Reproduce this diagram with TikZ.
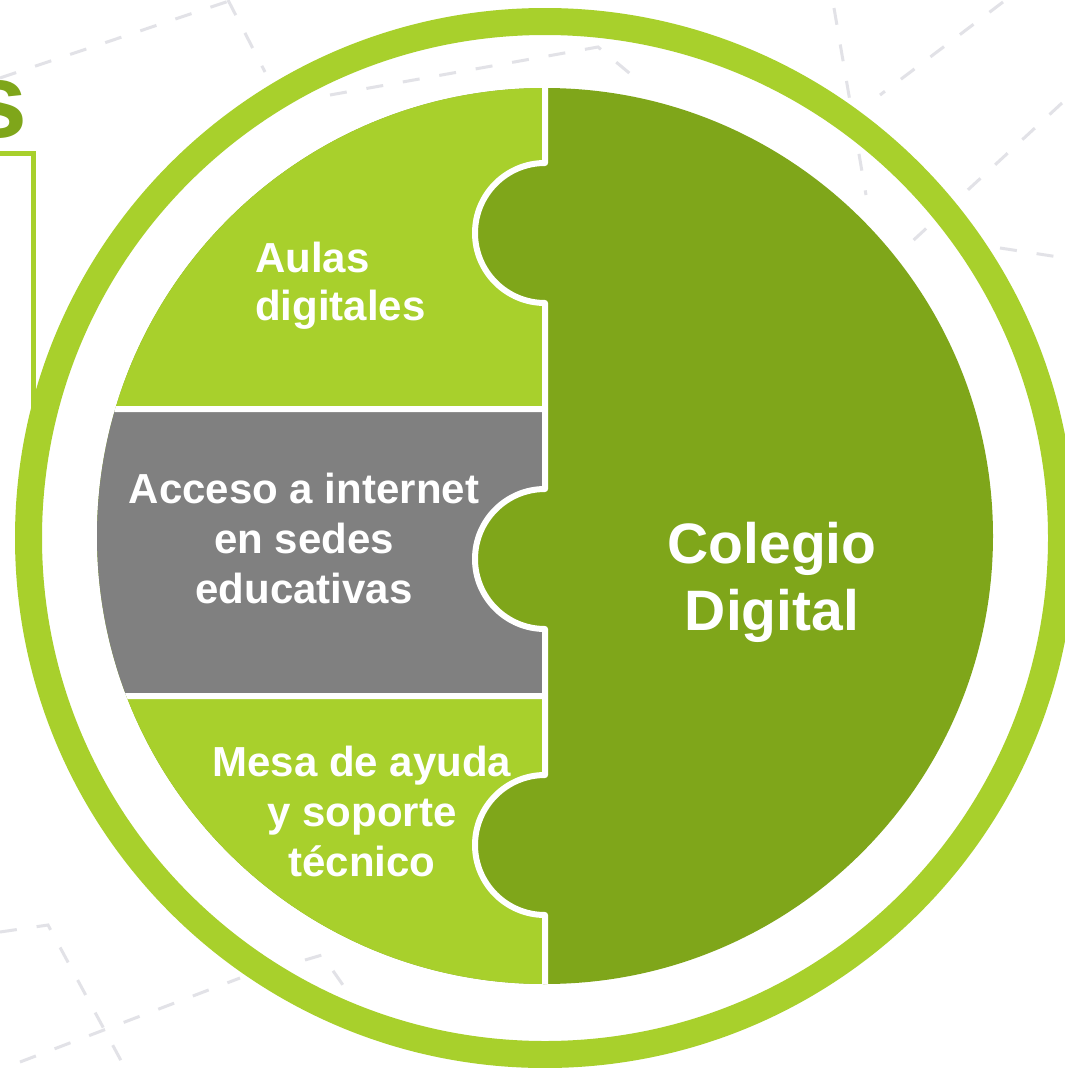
\documentclass[tikz,border=0pt]{standalone}
\usepackage{fontspec}
\setmainfont{Liberation Sans}
\definecolor{lgreen}{RGB}{168,208,44}
\definecolor{dgreen}{RGB}{127,166,26}
\definecolor{pgray}{RGB}{128,128,128}
\definecolor{dashgray}{RGB}{226,226,231}
\tikzset{
  bgdash/.style={draw=dashgray, line width=3pt, dash pattern=on 17pt off 20pt},
  piece/.style={draw=white, line width=6pt, line join=round},
  lbl/.style={text=white, font=\bfseries\fontsize{42}{50}\selectfont, inner sep=0pt},
}
\begin{document}
\begin{tikzpicture}[x=1pt,y=-1pt]
\useasboundingbox (0,0) rectangle (1065,1068);
\clip (0,0) rectangle (1065,1068);
\fill[white] (0,0) rectangle (1065,1068);

% faint dashed background lines
\draw[bgdash] (0,78) -- (232,0);
\draw[bgdash] (228,0) -- (265,72);
\draw[bgdash] (330,95) -- (598,47) -- (640,82);
\draw[bgdash] (834,8) -- (866,195);
\draw[bgdash] (1003,2) -- (880,95);
\draw[bgdash] (1062,103) -- (905,248);
\draw[bgdash] (1000,248) -- (1065,258);
\draw[bgdash] (0,932) -- (48,925) -- (125,1068);
\draw[bgdash] (20,1062) -- (240,978);
\draw[bgdash] (305,960) -- (322,955) -- (352,998);

% outer ring
\draw[lgreen, line width=27pt] (545,538) circle (516.5);

% title fragment and frame line
\draw[lgreen, line width=5pt] (-5,153) -- (33,153) -- (33,410);
\node[anchor=base east, inner sep=0pt, text=dgreen,
      font=\bfseries\fontsize{106}{110}\selectfont] (title) at (28,137) {s};

% disc
\fill[dgreen] (545,536) circle (448);
\begin{scope}
  \clip (545,536) circle (448);
  \path[piece, fill=lgreen] (0,0) -- (545,0) -- (545,163)
     arc[start angle=270, end angle=90, radius=70] -- (545,409) -- (0,409) -- cycle;
  \path[piece, fill=pgray] (0,409) -- (545,409) -- (545,489)
     arc[start angle=270, end angle=90, radius=70] -- (545,696) -- (0,696) -- cycle;
  \path[piece, fill=lgreen] (0,696) -- (545,696) -- (545,775)
     arc[start angle=270, end angle=90, radius=70] -- (545,1000) -- (0,1000) -- cycle;
\end{scope}

% labels (base anchor = baseline of the last line)
\node[lbl, anchor=base west, align=left, font=\bfseries\fontsize{42}{48}\selectfont]
   (aulas) at (255,320) {Aulas\\digitales};
\node[lbl, anchor=base, align=center] (acceso) at (304,603)
   {Acceso a internet\\en sedes\\educativas};
\node[lbl, anchor=base, align=center] (mesa) at (362,876)
   {Mesa de ayuda\\y soporte\\técnico};
\node[lbl, anchor=base, align=center, font=\bfseries\fontsize{57}{67}\selectfont]
   (colegio) at (772,630) {Colegio\\Digital};
\end{tikzpicture}
\end{document}
